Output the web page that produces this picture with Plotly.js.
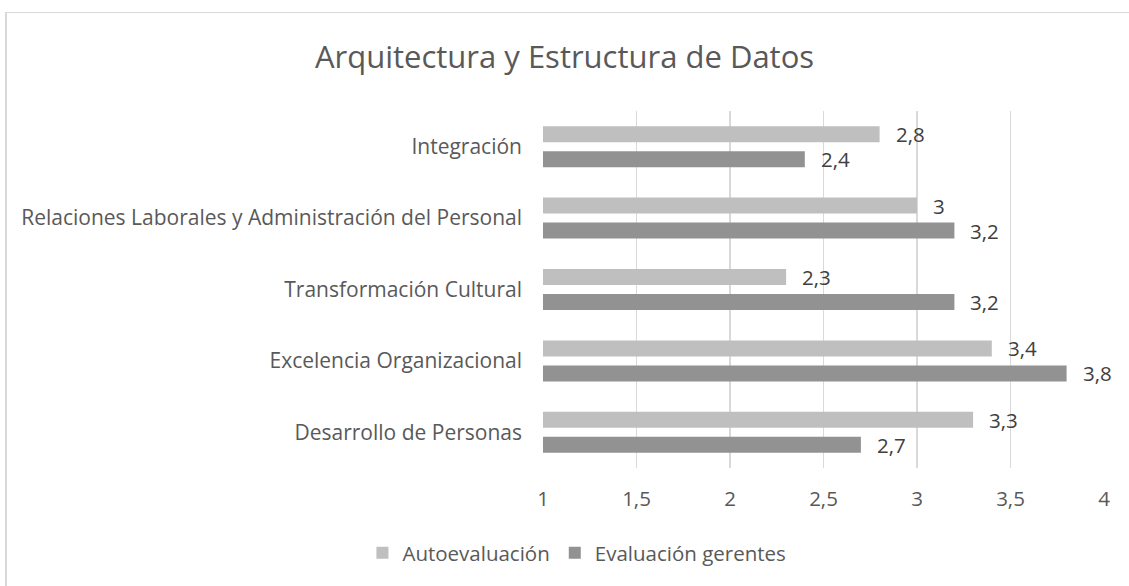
<!DOCTYPE html>
<html>
<head>
<meta charset="utf-8">
<script src="https://cdn.plot.ly/plotly-3.0.1.min.js"></script>
<style>
  html, body { margin: 0; padding: 0; background: #fff; }
  #wrap { position: relative; width: 1129px; height: 586px; overflow: hidden; }
  #chart { position: absolute; left: 0; top: 0; width: 1129px; height: 586px; }
  #frame { position: absolute; left: 5px; top: 12px; width: 1300px; height: 700px;
           border-left: 2px solid #D9D9D9; border-top: 1px solid #D9D9D9; pointer-events: none; }
</style>
</head>
<body>
<div id="wrap">
  <div id="chart"></div>
  <div id="frame"></div>
</div>
<script>
const chartTitle = "Arquitectura y Estructura de Datos";
const categories = [
  "Integración",
  "Relaciones Laborales y Administración del Personal",
  "Transformación Cultural",
  "Excelencia Organizacional",
  "Desarrollo de Personas"
];
const seriesNames = ["Autoevaluación", "Evaluación gerentes"];
const autoevaluacion = [2.8, 3, 2.3, 3.4, 3.3];
const evaluacionGerentes = [2.4, 3.2, 3.2, 3.8, 2.7];
const xTickVals = [1, 1.5, 2, 2.5, 3, 3.5, 4];
const xTickText = ["1", "1,5", "2", "2,5", "3", "3,5", "4"];

const FONT = "'Open Sans', 'Noto Sans', sans-serif";
const TXT = "#595959";
const fmt = v => String(v).replace(".", ",");

const traces = [
  { type: "bar", orientation: "h", name: seriesNames[0], y: categories, x: autoevaluacion,
    marker: { color: "#BFBFBF" }, hoverinfo: "x+y" },
  { type: "bar", orientation: "h", name: seriesNames[1], y: categories, x: evaluacionGerentes,
    marker: { color: "#929292" }, hoverinfo: "x+y" }
];

const annotations = [];
[autoevaluacion, evaluacionGerentes].forEach((vals, si) => {
  vals.forEach((v, i) => {
    annotations.push({
      x: v, y: categories[i], xref: "x", yref: "y",
      text: fmt(v), showarrow: false, xanchor: "left", yanchor: "middle",
      xshift: 14, yshift: si === 0 ? 12.5 : -12.5,
      font: { family: FONT, size: 20.5, color: "#404040" }
    });
  });
});

const layout = {
  width: 1129, height: 586,
  margin: { l: 543, r: 25, t: 111, b: 118, pad: 0 },
  paper_bgcolor: "#ffffff", plot_bgcolor: "#ffffff",
  title: { text: chartTitle, x: 0.5, xref: "container", xanchor: "center", y: 1 - 57/586, yref: "container", yanchor: "middle",
           font: { family: FONT, size: 31, color: TXT } },
  barmode: "group", bargap: 0.3, bargroupgap: 0.36,
  xaxis: {
    range: [1, 4], tickvals: xTickVals, ticktext: xTickText,
    showgrid: true, gridcolor: "#D9D9D9", gridwidth: 1.5, zeroline: false, showline: false,
    ticks: "", ticklabelstandoff: 16,
    tickfont: { family: FONT, size: 20.5, color: TXT }, fixedrange: true
  },
  yaxis: {
    type: "category", autorange: "reversed", showgrid: false, zeroline: false,
    showline: false, ticks: "", ticklabelstandoff: 20,
    tickfont: { family: FONT, size: 21, color: TXT }, fixedrange: true
  },
  legend: { orientation: "h", x: 0.511, xref: "container", xanchor: "center", y: 1 - 553/586, yref: "container", yanchor: "middle",
            font: { family: FONT, size: 20.5, color: TXT }, itemclick: false, itemdoubleclick: false, traceorder: "normal" },
  annotations: annotations,
  showlegend: true
};

Plotly.newPlot("chart", traces, layout, { displayModeBar: false, staticPlot: true });
</script>
</body>
</html>
